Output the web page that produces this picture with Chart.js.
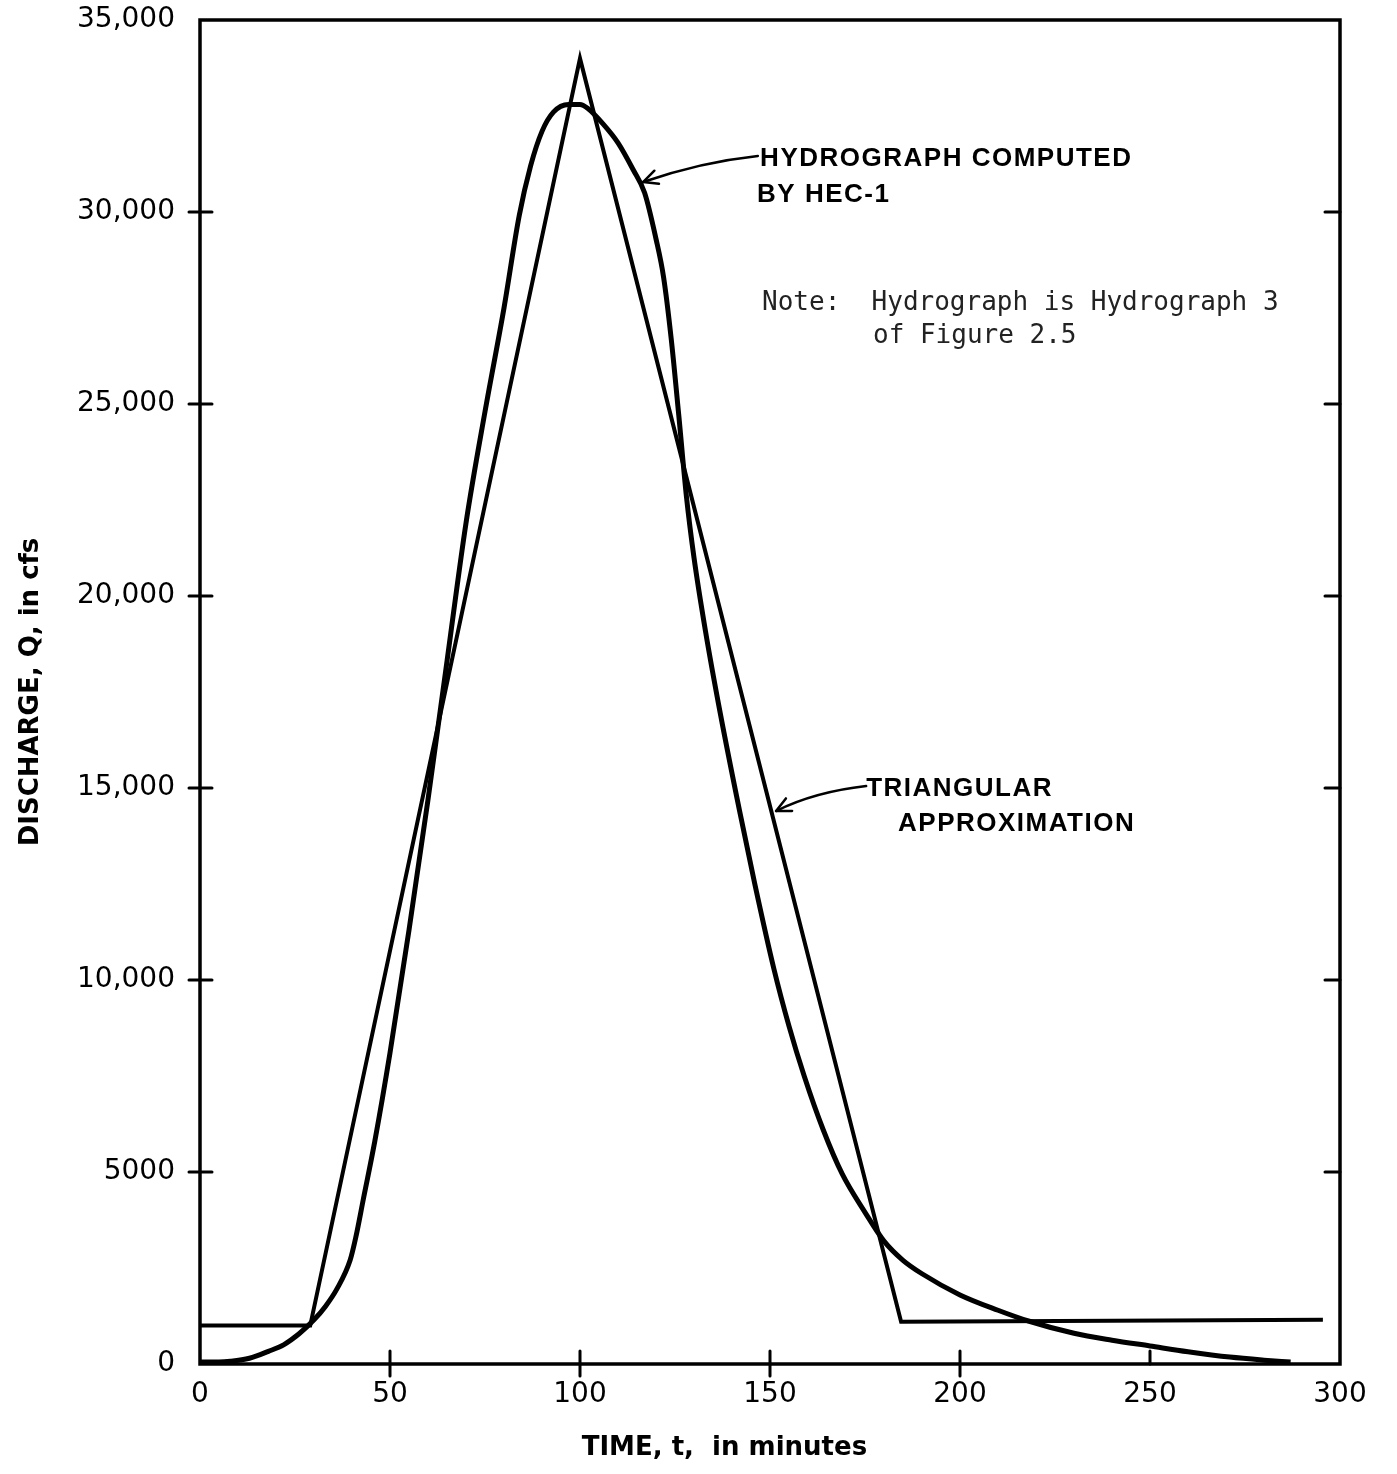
<!DOCTYPE html>
<html>
<head>
<meta charset="utf-8">
<script src="https://cdn.jsdelivr.net/npm/chart.js@4.4.1/dist/chart.umd.min.js"></script>
<style>
  body { margin: 0; background: #fff; }
  #wrap { width: 1397px; height: 1474px; }
</style>
</head>
<body>
<div id="wrap"><canvas id="chart1" width="1397" height="1474"></canvas></div>
<script>
// hydrograph computed by HEC-1 (time in minutes, discharge in cfs)
const hecTime = [0, 5, 8, 13, 18, 22, 26, 30, 33, 36, 39.5, 41, 43, 46, 50, 55, 60, 65, 70, 75,
                 80, 84, 87, 90, 93, 97, 100, 102, 106, 110, 114, 117, 120, 122, 124, 126, 128, 130, 133,
                 137, 142, 146, 151, 155, 159, 164, 169, 175, 180, 185, 190, 200, 210, 218, 230,
                 240, 250, 260, 271, 280, 287];
const hecFlow = [50, 50, 70, 150, 330, 500, 780, 1150, 1500, 1950, 2700, 3300, 4300, 5800, 8100, 11300, 14700, 18300, 21900, 24800,
                 27500, 29900, 31200, 32100, 32600, 32800, 32800, 32700, 32300, 31800, 31100, 30500, 29300, 28300, 26700, 24700, 22600, 21000, 19100,
                 16900, 14400, 12500, 10300, 8800, 7500, 6100, 4950, 3950, 3200, 2700, 2350, 1800, 1400, 1120, 800,
                 620, 470, 320, 180, 100, 50];

// triangular approximation
const triTime = [0, 29, 100, 184.5, 295.5];
const triFlow = [1000, 1000, 34000, 1100, 1150];

// axis ticks
const xTicks = [0, 50, 100, 150, 200, 250, 300];
const yTicks = [0, 5000, 10000, 15000, 20000, 25000, 30000, 35000];
const yTickLabels = ['0', '5000', '10,000', '15,000', '20,000', '25,000', '30,000', '35,000'];

function pairs(xs, ys) {
    return xs.map((v, i) => ({x: v, y: ys[i]}));
}

// frame, tick marks, x title and the notes with arrows
const frameAndNotes = {
    id: 'frameAndNotes',
    afterDraw(chart) {
        const {ctx, chartArea: a, scales: {x, y}} = chart;
        const P = (t, q) => [x.getPixelForValue(t), y.getPixelForValue(q)];
        ctx.save();
        ctx.strokeStyle = '#000';
        ctx.lineCap = 'round';

        ctx.lineWidth = 3.5;
        ctx.strokeRect(a.left, a.top, a.right - a.left, a.bottom - a.top);

        ctx.lineWidth = 3;
        ctx.beginPath();
        yTicks.slice(1, -1).forEach(v => {
            const py = y.getPixelForValue(v);
            ctx.moveTo(a.left - 11, py); ctx.lineTo(a.left + 12, py);   // left, crossing
            ctx.moveTo(a.right - 15, py); ctx.lineTo(a.right, py);      // right, inward
        });
        xTicks.slice(1, -1).forEach(v => {
            const px = x.getPixelForValue(v);
            ctx.moveTo(px, a.bottom - 13);
            ctx.lineTo(px, v === 250 ? a.bottom : a.bottom + 12);
        });
        ctx.stroke();

        // arrows
        function arrow(s, c, e) {
            ctx.lineWidth = 2.5;
            ctx.beginPath();
            ctx.moveTo(s[0], s[1]);
            ctx.quadraticCurveTo(c[0], c[1], e[0], e[1]);
            ctx.stroke();
            const ang = Math.atan2(e[1] - c[1], e[0] - c[0]);
            ctx.beginPath();
            [0.45, -0.45].forEach(d => {
                ctx.moveTo(e[0], e[1]);
                ctx.lineTo(e[0] - 16 * Math.cos(ang + d), e[1] - 16 * Math.sin(ang + d));
            });
            ctx.stroke();
        }
        arrow(P(146.8, 31460), P(131.6, 31300), P(116.6, 30780));
        arrow(P(175.3, 15050), P(161.8, 14900), P(151.6, 14400));

        ctx.fillStyle = '#000';
        ctx.textBaseline = 'alphabetic';
        ctx.textAlign = 'left';
        ctx.font = 'bold 26px "Liberation Sans"';
        ctx.letterSpacing = '1.5px';
        let p = P(147.4, 31200); ctx.fillText('HYDROGRAPH COMPUTED', p[0], p[1]);
        p = P(146.6, 30260); ctx.fillText('BY HEC-1', p[0], p[1]);
        p = P(175.3, 14790); ctx.fillText('TRIANGULAR', p[0], p[1]);
        p = P(183.7, 13880); ctx.fillText('APPROXIMATION', p[0], p[1]);

        ctx.letterSpacing = '0px';
        ctx.fillStyle = '#222';
        ctx.font = '26px "DejaVu Sans Mono"';
        p = P(147.9, 27450); ctx.fillText('Note:  Hydrograph is Hydrograph 3', p[0], p[1]);
        p = P(177.1, 26590); ctx.fillText('of Figure 2.5', p[0], p[1]);

        // x axis title, sits a little left of the axis centre in the original
        ctx.fillStyle = '#000';
        ctx.textAlign = 'center';
        ctx.textBaseline = 'middle';
        ctx.font = 'bold 26px "DejaVu Sans"';
        ctx.fillText('TIME, t,  in minutes', x.getPixelForValue(138), a.bottom + 84);
        ctx.restore();
    }
};

document.addEventListener("DOMContentLoaded", function() {
    const ctx1 = document.getElementById('chart1').getContext('2d');
    new Chart(ctx1, {
        type: 'line',
        data: {
            datasets: [{
                label: 'Hydrograph computed by HEC-1',
                data: pairs(hecTime, hecFlow),
                borderColor: '#000',
                borderWidth: 5,
                pointRadius: 0,
                cubicInterpolationMode: 'monotone',
                fill: false
            }, {
                label: 'Triangular approximation',
                data: pairs(triTime, triFlow),
                borderColor: '#000',
                borderWidth: 4,
                pointRadius: 0,
                tension: 0,
                borderJoinStyle: 'miter',
                fill: false
            }]
        },
        options: {
            responsive: false,
            animation: false,
            devicePixelRatio: 1,
            layout: { padding: { top: 20, right: 57, left: 0, bottom: 0 } },
            plugins: { legend: { display: false }, tooltip: { enabled: false } },
            scales: {
                x: {
                    type: 'linear',
                    min: 0, max: 300,
                    afterFit: s => { s.height = 110; },
                    afterBuildTicks: s => { s.ticks = xTicks.map(v => ({value: v})); },
                    grid: { display: false, drawTicks: false },
                    border: { display: false },
                    ticks: {
                        color: '#000',
                        padding: 14,
                        maxRotation: 0,
                        font: { family: '"DejaVu Sans"', size: 28 }
                    },
                    title: { display: false }
                },
                y: {
                    type: 'linear',
                    min: 0, max: 35000,
                    afterFit: s => { s.width = 200; s.paddingTop = 18; s.paddingBottom = 0; },
                    afterBuildTicks: s => { s.ticks = yTicks.map(v => ({value: v})); },
                    grid: { display: false, drawTicks: false },
                    border: { display: false },
                    ticks: {
                        color: '#000',
                        padding: 25,
                        font: { family: '"DejaVu Sans"', size: 28 },
                        callback: (v, i) => yTickLabels[i]
                    },
                    title: {
                        display: true,
                        text: 'DISCHARGE, Q, in cfs',
                        color: '#000',
                        font: { family: '"DejaVu Sans"', size: 26, weight: 'bold' },
                        padding: { top: 16, bottom: 0 }
                    }
                }
            }
        },
        plugins: [frameAndNotes]
    });
});
</script>
</body>
</html>
